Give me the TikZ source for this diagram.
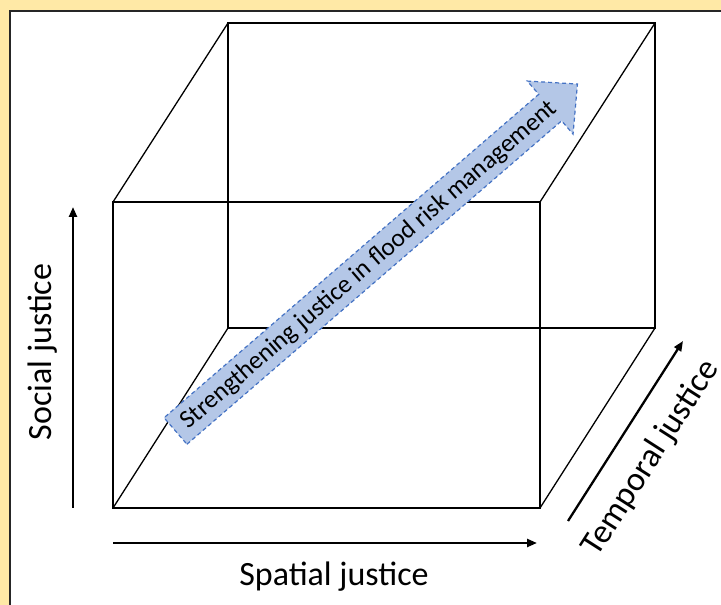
\documentclass[tikz,border=0pt]{standalone}
\usepackage{fontspec}
\setmainfont{Carlito}
\usetikzlibrary{arrows.meta}
\definecolor{bgyellow}{HTML}{FFE9A6}
\definecolor{arrowfill}{HTML}{B4C7E7}
\definecolor{arrowline}{HTML}{4472C4}
\tikzset{
  cubeline/.style={line width=1.3pt, black},
  axisarrow/.style={line width=2.3pt, -{Triangle[length=10pt,width=8pt]}},
  axislabel/.style={inner sep=0pt, font=\fontsize{34}{38}\selectfont},
  bigarrow/.style={fill=arrowfill, draw=arrowline, line width=1.2pt, dash pattern=on 4pt off 3pt},
}
\begin{document}
\begin{tikzpicture}[x=1pt,y=1pt]
\useasboundingbox (0,0) rectangle (721,605);
\clip (0,0) rectangle (721,605);
\fill[bgyellow] (0,0) rectangle (721,605);
\draw[fill=white, line width=1.6pt, draw=black!85] (10,-20) rectangle (760,594);
% cube
\coordinate (F1) at (113,97);
\coordinate (F2) at (540,97);
\coordinate (F3) at (540,403);
\coordinate (F4) at (113,403);
\coordinate (B1) at (228,277);
\coordinate (B2) at (655,277);
\coordinate (B3) at (655,582);
\coordinate (B4) at (228,582);
\draw[cubeline] (B1) -- (B2) -- (B3) -- (B4) -- cycle;
\draw[cubeline] (F1) -- (F2) -- (F3) -- (F4) -- cycle;
\draw[cubeline] (F1) -- (B1) (F2) -- (B2) (F3) -- (B3) (F4) -- (B4);
% axes
\coordinate (s0) at (73,97);
\coordinate (s1) at (73,398);
\coordinate (p0) at (113,62);
\coordinate (p1) at (537,62);
\coordinate (t0) at (568,84);
\coordinate (t1) at (683,264);
\draw[axisarrow] (s0) -- (s1);
\draw[axisarrow] (p0) -- (p1);
\draw[axisarrow] (t0) -- (t1);
\node[axislabel, rotate=90] (social) at (43,253) {Social justice};
\node[axislabel] (spatial) at (334,28) {Spatial justice};
\node[axislabel, rotate=57.4] (temporal) at (651,147) {Temporal justice};
% big arrow
\coordinate (tail) at (175.5,174);
\begin{scope}[shift={(tail)}, rotate=40.8]
\draw[bigarrow] (0,-17.5) -- (495,-17.5) -- (495,-35) -- (531,0) -- (495,35) -- (495,17.5) -- (0,17.5) -- cycle;
\coordinate (mid) at (255,-1);
\end{scope}
\node[inner sep=0pt, rotate=40.8, font=\fontsize{25.5}{28}\selectfont] (strength) at (mid) {Strengthening justice in flood risk management};
\end{tikzpicture}
\end{document}
